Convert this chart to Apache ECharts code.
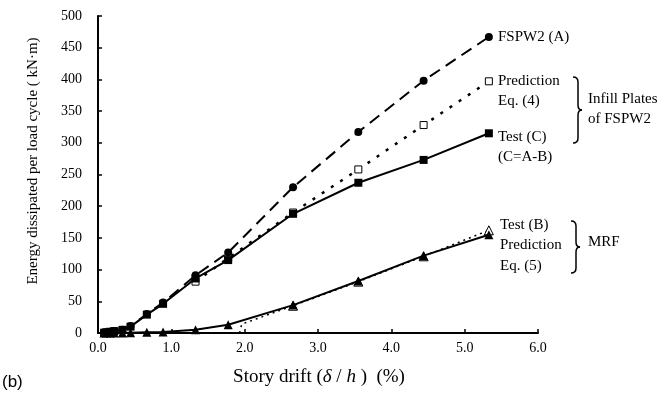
<!DOCTYPE html>
<html><head><meta charset="utf-8">
<script src="https://cdn.jsdelivr.net/npm/echarts@6/dist/echarts.min.js"></script>
<style>html,body{margin:0;padding:0;background:#fff}#c{width:665px;height:400px}</style>
</head><body><div id="c"></div>
<script>
// Story drift levels (%)
const drift = [0.083,0.111,0.166,0.222,0.333,0.444,0.666,0.8875,1.33,1.775,2.66,3.55,4.44,5.33];
// FSPW2 (A)
const fspw2A = [0.5,1,2,3,5,11,30,48,91,127,230,317,398,467];
// Infill plates Test (C)
const testC = [0.5,1,2,3,5,10,29,46,86,115,188,237,273,315];
// MRF Test (B)
const testB = [0,0,0,0,0,0.5,1,1.5,5,13,44,82,122,155];
// Prediction Eq. (4)
const predEq4Drift = [1.33,1.775,2.66,3.55,4.44,5.33];
const predEq4 = [81,118,190,258,328,397];
// Prediction Eq. (5)
const predEq5Drift = [1.93,1.96,2.66,3.55,4.44,5.33];
const predEq5 = [0,14,43,81,121,162];
const predEq5Marker = [false,false,true,true,true,true];

const xTicks = [0,1,2,3,4,5,6];
const yTicks = [0,50,100,150,200,250,300,350,400,450,500];

const serif = '"Liberation Serif","DejaVu Serif",serif';
const pair = (xs, ys) => xs.map((x,i)=>[x, ys[i]]);

function brace(x, y1, y2, w) {
  const m = (y1+y2)/2, xm = x+w, r = 5;
  const st = {fill:'none', stroke:'#000', lineWidth:1.5};
  return [
    {type:'bezierCurve', shape:{x1:x-r, y1:y1, cpx1:x, cpy1:y1, x2:x, y2:y1+r}, style:st},
    {type:'line', shape:{x1:x, y1:y1+r, x2:x, y2:m-r}, style:st},
    {type:'bezierCurve', shape:{x1:x, y1:m-r, cpx1:x, cpy1:m, x2:xm, y2:m}, style:st},
    {type:'bezierCurve', shape:{x1:xm, y1:m, cpx1:x, cpy1:m, x2:x, y2:m+r}, style:st},
    {type:'line', shape:{x1:x, y1:m+r, x2:x, y2:y2-r}, style:st},
    {type:'bezierCurve', shape:{x1:x, y1:y2-r, cpx1:x, cpy1:y2, x2:x-r, y2:y2}, style:st}
  ];
}
function txt(x, y, s) {
  return {type:'text', x:x, y:y, style:{text:s, font:'15px '+serif, fill:'#000', verticalAlign:'middle'}};
}

const chart = echarts.init(document.getElementById('c'), null, {renderer:'canvas'});
const axisCommon = {
  axisLine:{show:true, lineStyle:{color:'#000', width:2}},
  axisTick:{show:true, inside:true, length:4, lineStyle:{color:'#000', width:1.5}},
  splitLine:{show:false},
  axisLabel:{color:'#000', fontFamily:serif, fontSize:14}
};
chart.setOption({
  animation:false,
  backgroundColor:'#fff',
  grid:{left:98, right:127, top:16, bottom:67, containLabel:false},
  xAxis:Object.assign({type:'value', min:xTicks[0], max:xTicks[xTicks.length-1], interval:1},
    axisCommon, {axisLabel:Object.assign({}, axisCommon.axisLabel, {margin:8, formatter:v=>v.toFixed(1)})}),
  yAxis:Object.assign({type:'value', min:yTicks[0], max:yTicks[yTicks.length-1], interval:50},
    axisCommon, {axisLabel:Object.assign({}, axisCommon.axisLabel, {margin:16})}),
  series:[
    {name:'Test (B)', type:'line', data:pair(drift,testB), symbol:'triangle', symbolSize:9,
     itemStyle:{color:'#000'}, lineStyle:{color:'#000', width:2}, z:3},
    {name:'Prediction Eq. (5)', type:'line',
     data:pair(predEq5Drift,predEq5).map((p,i)=>({value:p, symbol: predEq5Marker[i]?'triangle':'none'})),
     symbolSize:9, itemStyle:{color:'#fff', borderColor:'#000', borderWidth:1},
     lineStyle:{color:'#000', width:1.5, type:[2,4]}, z:2},
    {name:'Test (C)', type:'line', data:pair(drift,testC), symbol:'rect', symbolSize:8,
     itemStyle:{color:'#000'}, lineStyle:{color:'#000', width:2}, z:4},
    {name:'Prediction Eq. (4)', type:'line', data:pair(predEq4Drift,predEq4), symbol:'rect', symbolSize:7,
     itemStyle:{color:'#fff', borderColor:'#000', borderWidth:1},
     lineStyle:{color:'#000', width:2.5, type:[3,8]}, z:3},
    {name:'FSPW2 (A)', type:'line', data:pair(drift,fspw2A), symbol:'circle', symbolSize:8,
     itemStyle:{color:'#000'}, lineStyle:{color:'#000', width:2, type:[12,7]}, z:5}
  ],
  graphic:[
    txt(498, 37, 'FSPW2 (A)'),
    txt(498, 81, 'Prediction'),
    txt(498, 101, 'Eq. (4)'),
    txt(498, 137, 'Test (C)'),
    txt(498, 157, '(C=A-B)'),
    txt(588, 99, 'Infill Plates'),
    txt(588, 119, 'of FSPW2'),
    txt(500, 225, 'Test (B)'),
    txt(500, 245, 'Prediction'),
    txt(500, 266, 'Eq. (5)'),
    txt(588, 242, 'MRF'),
    ...brace(578, 77, 143, 4),
    ...brace(576, 221, 273, 4),
    {type:'text', x:33, y:161, rotation:Math.PI/2,
     style:{text:'Energy dissipated per load cycle ( kN·m)', font:'15px '+serif, fill:'#000', align:'center', verticalAlign:'middle'}},
    {type:'text', x:319, y:377,
     style:{text:'Story drift ({i|δ} / {i|h} )  (%)', font:'19px '+serif, fill:'#000', align:'center', verticalAlign:'middle',
       rich:{i:{fontStyle:'italic', fontFamily:serif, fontSize:19}}}},
    {type:'text', x:2, y:382, style:{text:'(b)', font:'17px "Liberation Sans", Arial, sans-serif', fill:'#000', verticalAlign:'middle'}}
  ]
});
</script></body></html>
